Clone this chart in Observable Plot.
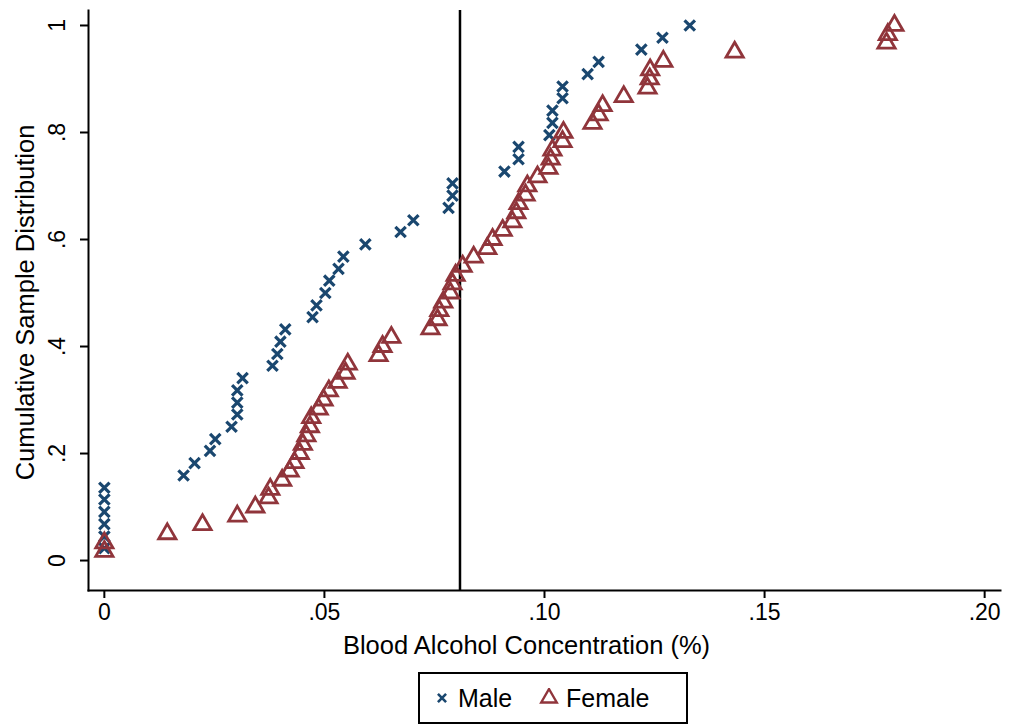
<!DOCTYPE html>
<html>
<head>
<meta charset="utf-8">
<script src="https://cdn.jsdelivr.net/npm/d3@7"></script>
<script src="https://cdn.jsdelivr.net/npm/@observablehq/plot@0.6"></script>
<style>
  html, body { margin: 0; padding: 0; background: #fff; }
  body { font-family: "Liberation Sans", Arial, Helvetica, sans-serif; position: relative; width: 1020px; height: 725px; overflow: hidden; }
  #chart { position: absolute; left: 0; top: 0; }
  #legend { position: absolute; left: 418px; top: 672px; width: 270px; height: 52px; box-sizing: border-box; border: 2px solid #000; background: #fff; }
  #legend .item { position: absolute; top: 0; height: 48px; display: flex; align-items: center; font-size: 25px; color: #000; }
  #legend svg { display: block; }
</style>
</head>
<body>
<div id="chart"></div>
<div id="legend"></div>
<script>
// ---- Data ----
const seriesNames = ["Male", "Female"];
const seriesColors = ["#1a476f", "#90353b"];

const maleBAC = [0, 0, 0, 0, 0, 0, 0.0180, 0.0205, 0.0240, 0.0252, 0.0289, 0.0302, 0.0302, 0.0302, 0.0314,
  0.0382, 0.0393, 0.0400, 0.0411, 0.0473, 0.0482, 0.0502, 0.0511, 0.0532, 0.0543, 0.0593, 0.0673, 0.0702,
  0.0782, 0.0791, 0.0791, 0.0909, 0.0941, 0.0941, 0.1011, 0.1018, 0.1018, 0.1041, 0.1041, 0.1098, 0.1123,
  0.1220, 0.1268, 0.1330];
const maleCum = [0.023, 0.045, 0.068, 0.091, 0.114, 0.136, 0.159, 0.182, 0.205, 0.227, 0.250, 0.273, 0.295,
  0.318, 0.341, 0.364, 0.386, 0.409, 0.432, 0.455, 0.477, 0.500, 0.523, 0.545, 0.568, 0.591, 0.614, 0.636,
  0.659, 0.682, 0.705, 0.727, 0.750, 0.773, 0.795, 0.818, 0.841, 0.864, 0.886, 0.909, 0.932, 0.955, 0.977, 1.000];

const femaleBAC = [0, 0, 0.0143, 0.0223, 0.0302, 0.0343, 0.0373, 0.0377, 0.0404, 0.0421, 0.0432, 0.0444,
  0.0451, 0.0459, 0.0467, 0.0470, 0.0487, 0.0498, 0.0510, 0.0530, 0.0548, 0.0553, 0.0623, 0.0632, 0.0652,
  0.0741, 0.0757, 0.0761, 0.0770, 0.0786, 0.0791, 0.0798, 0.0814, 0.0839, 0.0870, 0.0882, 0.0905, 0.0927,
  0.0936, 0.0941, 0.0957, 0.0961, 0.0984, 0.1009, 0.1014, 0.1018, 0.1041, 0.1043, 0.1109, 0.1123, 0.1132,
  0.1180, 0.1234, 0.1239, 0.1240, 0.1270, 0.1432, 0.1777, 0.1780, 0.1795];
const femaleCum = [0.017, 0.033, 0.050, 0.067, 0.083, 0.100, 0.117, 0.133, 0.150, 0.167, 0.183, 0.200, 0.217,
  0.233, 0.250, 0.267, 0.283, 0.300, 0.317, 0.333, 0.350, 0.367, 0.383, 0.400, 0.417, 0.433, 0.450, 0.467,
  0.483, 0.500, 0.517, 0.533, 0.550, 0.567, 0.583, 0.600, 0.617, 0.633, 0.650, 0.667, 0.683, 0.700, 0.717,
  0.733, 0.750, 0.767, 0.783, 0.800, 0.817, 0.833, 0.850, 0.867, 0.883, 0.900, 0.917, 0.933, 0.950, 0.967,
  0.983, 1.000];

const legalLimit = [0.0808];

const xTicks = [0, 0.05, 0.10, 0.15, 0.20];
const xTickLabels = ["0", ".05", ".10", ".15", ".20"];
const yTicks = [0, 0.2, 0.4, 0.6, 0.8, 1];
const yTickLabels = ["0", ".2", ".4", ".6", ".8", "1"];

const xTitle = "Blood Alcohol Concentration (%)";
const yTitle = "Cumulative Sample Distribution";

// ---- Build tables ----
const male = maleBAC.map((x, i) => ({ x, y: maleCum[i], sex: seriesNames[0] }));
const female = femaleBAC.map((x, i) => ({ x, y: femaleCum[i], sex: seriesNames[1] }));
const xLab = new Map(xTicks.map((t, i) => [t, xTickLabels[i]]));
const yLab = new Map(yTicks.map((t, i) => [t, yTickLabels[i]]));

const chart = Plot.plot({
  width: 1020,
  height: 660,
  marginTop: 10,
  marginBottom: 70,
  marginLeft: 88,
  marginRight: 20,
  style: { fontFamily: "'Liberation Sans', Arial, Helvetica, sans-serif", fontSize: "23px", color: "#000", background: "#fff", overflow: "visible" },
  x: { domain: [-0.0036, 0.2036] },
  y: { domain: [-0.056, 1.028] },
  marks: [
    Plot.frame({ anchor: "bottom", stroke: "#000", strokeWidth: 2 }),
    Plot.frame({ anchor: "left", stroke: "#000", strokeWidth: 2 }),
    Plot.axisX({ ticks: xTicks, tickFormat: d => xLab.get(d), tickSize: 8, tickPadding: 5, strokeWidth: 2, label: null }),
    Plot.axisY({ ticks: yTicks, tickFormat: d => yLab.get(d), tickSize: 8, tickPadding: 16, tickRotate: -90,
                 textAnchor: "middle", lineAnchor: "bottom", strokeWidth: 2, label: null }),
    Plot.ruleX(legalLimit, { stroke: "#000", strokeWidth: 2.5 }),
    Plot.dot(male, { x: "x", y: "y", symbol: "times", r: 4.8, stroke: seriesColors[0], strokeWidth: 3.2 }),
    Plot.dot(female, { x: "x", y: "y", symbol: "triangle", r: 6.4, stroke: seriesColors[1], strokeWidth: 2.8, fill: "none" }),
    Plot.text([xTitle], { frameAnchor: "bottom", dy: 55, dx: -18, fontSize: 25.5, fill: "#000", textAnchor: "middle", lineAnchor: "middle" }),
    Plot.text([yTitle], { frameAnchor: "left", dx: -63, dy: 2, rotate: -90, fontSize: 25.5, fill: "#000", textAnchor: "middle", lineAnchor: "middle" })
  ]
});
document.getElementById("chart").appendChild(chart);

// ---- Legend ----
const legend = document.getElementById("legend");
const legendLayout = [
  { markerLeft: 12, textLeft: 38, symbol: d3.symbolX, size: 45, sw: 2.6, fill: "none" },
  { markerLeft: 119, textLeft: 146, symbol: d3.symbolTriangle, size: 105, sw: 2.4, fill: "none" }
];
seriesNames.forEach((name, i) => {
  const L = legendLayout[i];
  const m = document.createElement("div");
  m.className = "item";
  m.style.left = L.markerLeft + "px";
  const path = d3.symbol(L.symbol, L.size)();
  m.innerHTML = `<svg width="20" height="20" viewBox="-10 -10 20 20"><path d="${path}" fill="${L.fill}" stroke="${seriesColors[i]}" stroke-width="${L.sw}"/></svg>`;
  legend.appendChild(m);
  const t = document.createElement("div");
  t.className = "item";
  t.style.left = L.textLeft + "px";
  t.textContent = name;
  legend.appendChild(t);
});
</script>
</body>
</html>
